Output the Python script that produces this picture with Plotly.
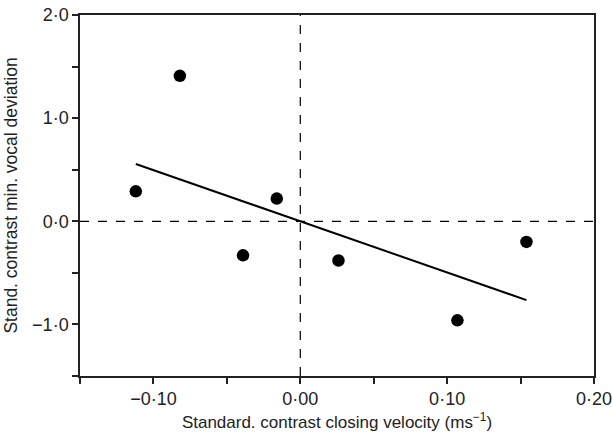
import numpy as np
import plotly.graph_objects as go

# Data
closing_velocity = [-0.112, -0.082, -0.039, -0.016, 0.026, 0.107, 0.154]
vocal_deviation = [0.29, 1.41, -0.33, 0.22, -0.38, -0.96, -0.20]

x_tick_vals = [-0.10, 0.00, 0.10, 0.20]
x_tick_text = ["−0·10", "0·00", "0·10", "0·20"]
x_minor_vals = [-0.15, -0.05, 0.05, 0.15]
y_tick_vals = [-1.0, 0.0, 1.0, 2.0]
y_tick_text = ["−1·0", "0·0", "1·0", "2·0"]
y_minor_vals = [-1.5, -0.5, 0.5, 1.5]

x = np.array(closing_velocity)
y = np.array(vocal_deviation)
# regression through the origin (standardized contrasts)
slope = float((x * y).sum() / (x * x).sum())
fit_x = np.array([x.min(), x.max()])
fit_y = slope * fit_x

fig = go.Figure()
fig.add_hline(y=0, line=dict(color="black", width=1.2, dash="dash"), layer="below")
fig.add_vline(x=0, line=dict(color="black", width=1.2, dash="dash"), layer="below")
fig.add_trace(go.Scatter(x=fit_x, y=fit_y, mode="lines",
                         line=dict(color="black", width=2), showlegend=False))
fig.add_trace(go.Scatter(x=closing_velocity, y=vocal_deviation, mode="markers",
                         marker=dict(color="black", size=12.5), showlegend=False))

fam = "Liberation Sans, Arial, sans-serif"
fig.update_layout(
    width=612, height=437,
    margin=dict(l=80, r=18, t=15, b=61, autoexpand=False),
    plot_bgcolor="white", paper_bgcolor="white",
    font=dict(family=fam, size=17, color="#222"),
)
axis_common = dict(ticks="outside", ticklen=6, tickwidth=1.5, tickcolor="#222",
                   showline=True, linecolor="#222", linewidth=1.5, mirror=True,
                   showgrid=False, zeroline=False, automargin=False,
                   ticklabeloverflow="allow",
                   tickfont=dict(family=fam, size=18, color="#222"))
fig.update_xaxes(range=[-0.15, 0.20], tickvals=x_tick_vals, ticktext=x_tick_text,
                 minor=dict(tickvals=x_minor_vals, ticks="outside", ticklen=6,
                            tickwidth=1.5, tickcolor="#222"),
                 title=dict(text="Standard. contrast closing velocity (ms<sup>−1</sup>)",
                            standoff=8, font=dict(family=fam, size=17, color="#222")),
                 **axis_common)
fig.update_yaxes(range=[-1.5, 2.0], tickvals=y_tick_vals, ticktext=y_tick_text,
                 minor=dict(tickvals=y_minor_vals, ticks="outside", ticklen=6,
                            tickwidth=1.5, tickcolor="#222"),
                 title=dict(text="Stand. contrast min. vocal deviation", standoff=10,
                            font=dict(family=fam, size=17.5, color="#222")),
                 **axis_common)
fig.write_html("out.html")
